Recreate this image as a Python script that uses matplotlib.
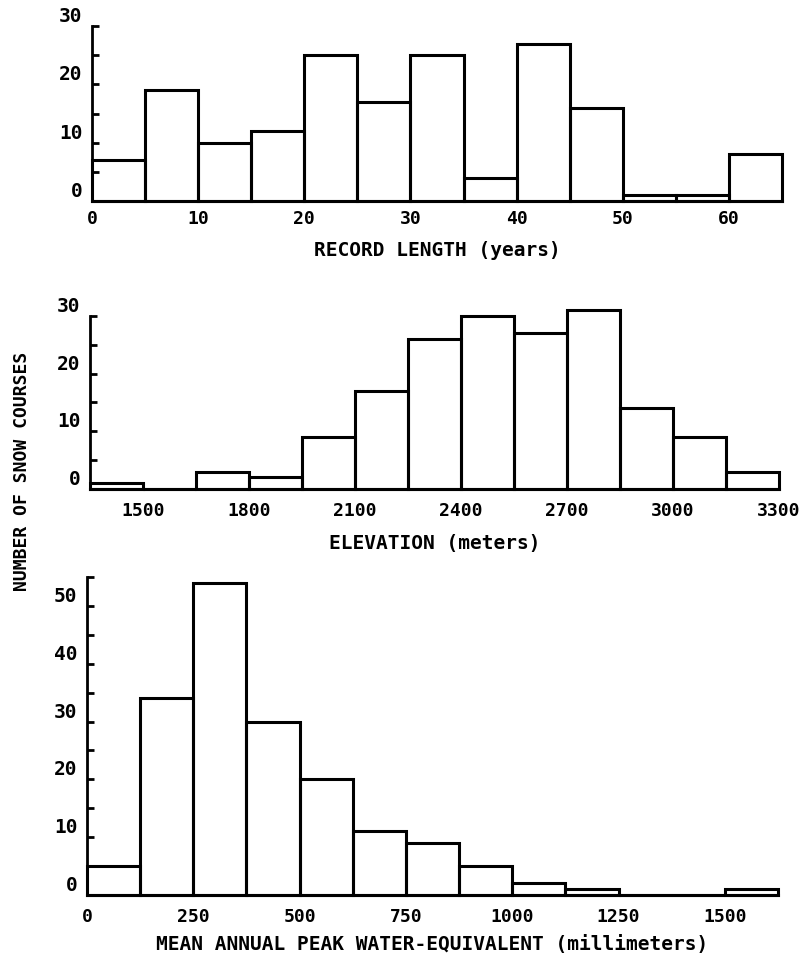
import numpy as np
import matplotlib.pyplot as plt
from matplotlib.ticker import MultipleLocator

# record length, 5-year bins
rec_left = [0, 5, 10, 15, 20, 25, 30, 35, 40, 45, 50, 55, 60]
rec_count = [7, 19, 10, 12, 25, 17, 25, 4, 27, 16, 1, 1, 8]
rec_ticks = [0, 10, 20, 30, 40, 50, 60]

# elevation, 150 m bins
elev_left = [1350, 1500, 1650, 1800, 1950, 2100, 2250, 2400, 2550, 2700, 2850, 3000, 3150]
elev_count = [1, 0, 3, 2, 9, 17, 26, 30, 27, 31, 14, 9, 3]
elev_ticks = [1500, 1800, 2100, 2400, 2700, 3000, 3300]

# mean annual peak water-equivalent, 125 mm bins
swe_left = [0, 125, 250, 375, 500, 625, 750, 875, 1000, 1125, 1250, 1375, 1500]
swe_count = [5, 34, 54, 30, 20, 11, 9, 5, 2, 1, 0, 0, 1]
swe_ticks = [0, 250, 500, 750, 1000, 1250, 1500]

plt.rcParams['font.family'] = ['DejaVu Sans Mono', 'DejaVu Sans']
plt.rcParams['font.weight'] = 'bold'
plt.rcParams['axes.labelweight'] = 'bold'

fig = plt.figure(figsize=(8.02, 9.6), dpi=100)

panels = [
    # axes rect, bins, counts, bin width, ticks, xlim, ytop, label, tick pad, label pad
    ([0.1147, 0.7906, 0.8603, 0.1823], rec_left, rec_count, 5, rec_ticks,
     (0, 65), 30, 'RECORD LENGTH (years)', 6.5, 9),
    ([0.1122, 0.4906, 0.8590, 0.1805], elev_left, elev_count, 150, elev_ticks,
     (1350, 3300), 30, 'ELEVATION (meters)', 9.5, 10),
    ([0.1085, 0.0677, 0.8616, 0.3313], swe_left, swe_count, 125, swe_ticks,
     (0, 1625), 55, 'MEAN ANNUAL PEAK WATER-EQUIVALENT (millimeters)', 9.5, 6),
]

for rect, left, count, width, xt, xlim, ytop, xlabel, xpad, lpad in panels:
    ax = fig.add_axes(rect)
    ax.bar(left, count, width=width, align='edge', fill=False,
           edgecolor='black', linewidth=2.2, clip_on=False)
    ax.set_xlim(*xlim)
    ax.set_ylim(0, ytop)
    ax.spines['top'].set_visible(False)
    ax.spines['right'].set_visible(False)
    ax.spines['left'].set_linewidth(2)
    ax.spines['bottom'].set_linewidth(2.2)
    ax.set_xticks(xt)
    ax.set_xticklabels([str(v) for v in xt])
    ax.tick_params(axis='x', length=0, pad=xpad, labelsize=13)
    ax.yaxis.set_major_locator(MultipleLocator(10))
    ax.yaxis.set_minor_locator(MultipleLocator(5))
    ax.tick_params(axis='y', which='both', direction='in', length=5,
                   width=2, pad=7, labelsize=14)
    for lab in ax.get_yticklabels():
        lab.set_verticalalignment('bottom')
    ax.set_xlabel(xlabel, fontsize=14, labelpad=lpad)
    ax.patch.set_visible(False)

fig.text(0.028, 0.509, 'NUMBER OF SNOW COURSES', rotation=90,
         ha='center', va='center', fontsize=13, fontweight='bold')

fig.savefig('out.png', dpi=100)
